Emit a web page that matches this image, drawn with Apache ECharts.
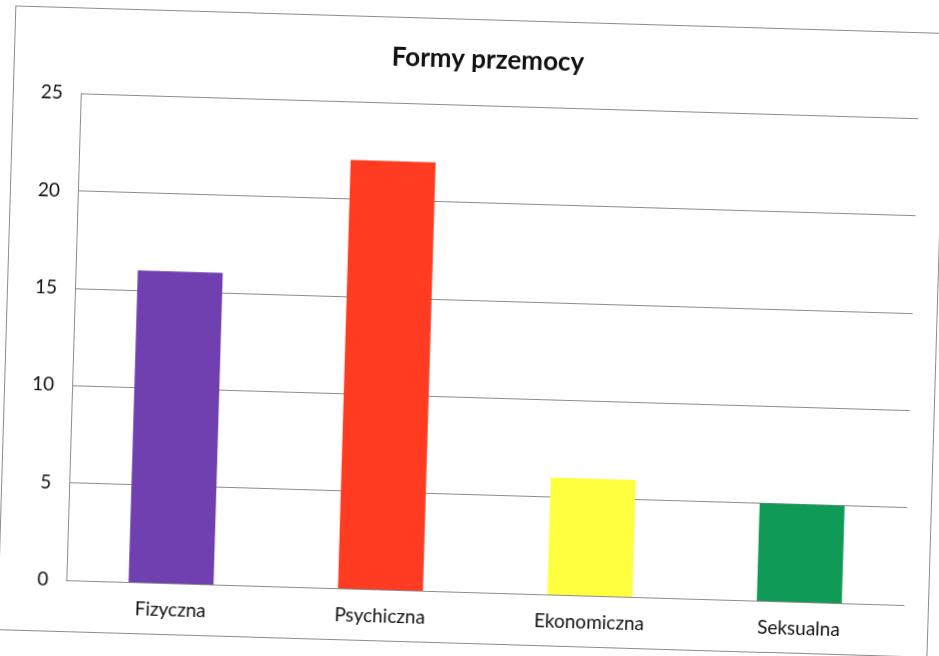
<!DOCTYPE html>
<html>
<head>
<meta charset="utf-8">
<title>Formy przemocy</title>
<script src="https://cdn.jsdelivr.net/npm/echarts@6/dist/echarts.min.js"></script>
<style>
    html, body { margin: 0; padding: 0; background: #ffffff; }
    body { width: 939px; height: 656px; overflow: hidden; position: relative; }
    /* the scanned page is slightly tilted, so the frame is too */
    #frame {
        position: absolute; left: 6px; top: 19px;
        width: 931px; height: 625px;
        box-sizing: border-box;
        border: 1px solid #8c8c8c;
        transform: rotate(1.7deg);
        transform-origin: 463.5px 309px;
        background: #ffffff;
    }
    #chart { width: 929px; height: 623px; }
</style>
</head>
<body>
<div id="frame"><div id="chart"></div></div>
<script>
    // dane
    var titleText = 'Formy przemocy';
    var categories = ['Fizyczna', 'Psychiczna', 'Ekonomiczna', 'Seksualna'];
    var values = [16, 22, 6, 5];
    var barColors = ['#7040b0', '#ff3c22', '#ffff40', '#0f9a56'];
    var yMin = 0, yMax = 25, yStep = 5;

    var chart = echarts.init(document.getElementById('chart'));
    var option = {
        animation: false,
        textStyle: {
            fontFamily: 'Lato, "Noto Sans", sans-serif',
            color: '#111111'
        },
        title: {
            text: titleText,
            left: 468,
            top: 22,
            textAlign: 'center',
            textStyle: {
                fontFamily: 'Lato, "Noto Sans", sans-serif',
                fontWeight: 'bold',
                fontSize: 26,
                color: '#111111'
            }
        },
        grid: {
            left: 67,
            right: 24,
            top: 85,
            bottom: 51,
            containLabel: false
        },
        xAxis: {
            type: 'category',
            data: categories,
            axisLine: { show: true, lineStyle: { color: '#8c8c8c', width: 1 } },
            axisTick: { show: false },
            axisLabel: {
                margin: 17,
                fontSize: 19,
                color: '#111111'
            }
        },
        yAxis: {
            type: 'value',
            min: yMin,
            max: yMax,
            interval: yStep,
            axisLine: { show: true, lineStyle: { color: '#8c8c8c', width: 1 } },
            axisTick: { show: false },
            splitLine: { show: true, lineStyle: { color: '#8c8c8c', width: 1 } },
            axisLabel: {
                margin: 18,
                fontSize: 19,
                color: '#111111'
            }
        },
        series: [
            {
                name: titleText,
                type: 'bar',
                data: values.map(function (v, i) {
                    return { value: v, itemStyle: { color: barColors[i] } };
                }),
                barWidth: 85
            }
        ]
    };
    chart.setOption(option);
</script>
</body>
</html>
